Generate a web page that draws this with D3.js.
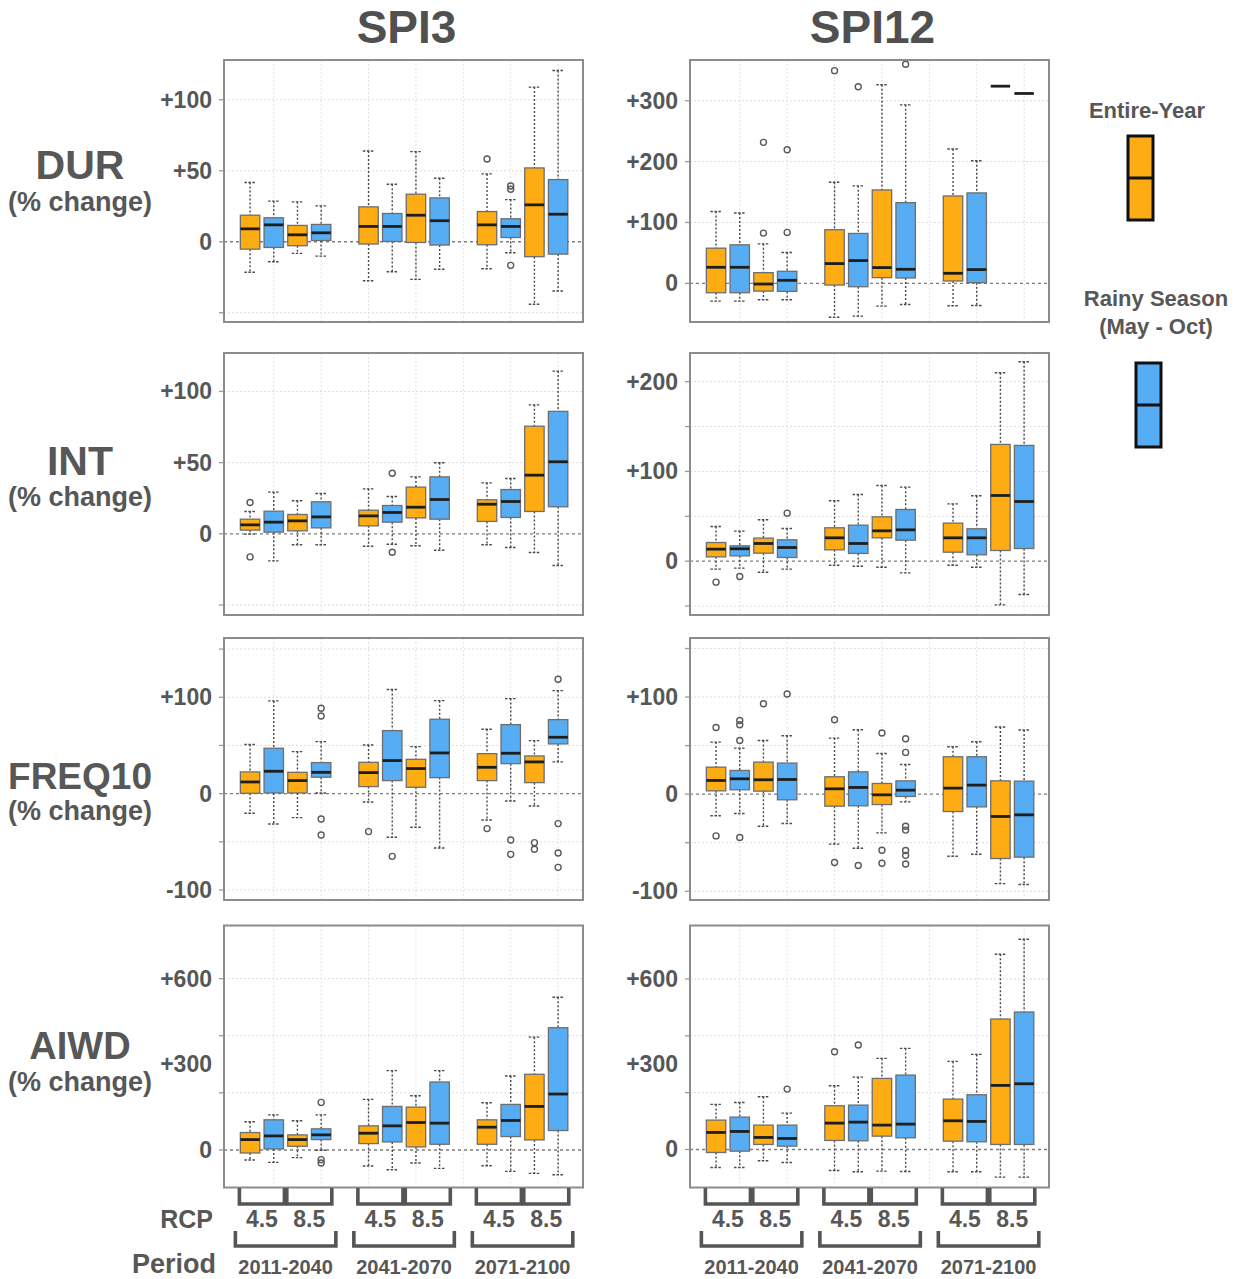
<!DOCTYPE html>
<html>
<head>
<meta charset="utf-8">
<script src="https://cdn.jsdelivr.net/npm/d3@7"></script>
<style>
  body { margin: 0; background: #fff; }
  svg text { font-family: "Liberation Sans", Arial, sans-serif; font-weight: bold; fill: #575757; }
</style>
</head>
<body>
<svg id="chart" width="1244" height="1279"></svg>
<script>
// ---- categories ----
const indices = ["SPI3", "SPI12"];
const metrics = ["DUR", "INT", "FREQ10", "AIWD"];
const periods = ["2011-2040", "2041-2070", "2071-2100"];
const rcps = ["4.5", "8.5"];
const seasons = ["Entire-Year", "Rainy Season|(May - Oct)"];

// ---- box statistics: [lower whisker, Q1, median, Q3, upper whisker]
// order: period -> RCP -> season (Entire-Year, Rainy Season)
const spi3Dur = [
  [-21.5, -5.2, 9.1, 18.7, 41.7], [-14.1, -4.0, 11.9, 16.9, 28.6],
  [-8.2, -2.8, 4.9, 11.5, 28.1], [-10.1, 0.9, 6.3, 12.2, 25.3],
  [-27.4, -1.6, 10.8, 24.6, 63.9], [-21.1, 0.2, 10.8, 19.9, 40.5],
  [-26.5, -0.5, 18.7, 33.5, 63.5], [-19.4, -2.3, 14.8, 30.9, 44.7],
  [-19.0, -2.1, 11.9, 21.3, 47.8], [-7.7, 3.0, 10.8, 16.2, 29.7],
  [-44.0, -10.5, 26.0, 52.0, 108.9], [-34.7, -8.7, 19.4, 43.8, 120.6]
];
const spi3DurOut = [[8, 58.3], [9, 39.3], [9, 37.0], [9, -16.6]];

const spi12Dur = [
  [-29.2, -15.4, 26.4, 57.8, 118], [-29.2, -15.4, 26.4, 63.3, 115.6],
  [-27.0, -12.7, -1.1, 17.6, 64.9], [-27.0, -13.2, 5.0, 19.8, 50.6],
  [-55.6, -2.8, 32.5, 88.1, 166.2], [-53.9, -5.5, 37.4, 82.0, 160.2],
  [-37.4, 9.4, 25.9, 153.5, 326.4], [-34.7, 8.8, 23.1, 132.6, 293.3],
  [-36.9, 3.9, 16.5, 143.6, 220.7], [-36.3, 1.1, 22.6, 148.6, 201.4],
  [324, 324, 324, 324, 324], [312, 312, 312, 312, 312]
];
const spi12DurOut = [[2, 82.6], [2, 231.7], [3, 83.7], [3, 219.6], [4, 349.5], [5, 323], [7, 360]];

const spi3Int = [
  [-0.2, 2.6, 6.3, 10.3, 15.7], [-19.0, 1.2, 8.2, 15.9, 29.3],
  [-7.7, 2.1, 9.1, 13.6, 23.2], [-7.7, 4.2, 11.9, 22.5, 28.3],
  [-8.7, 5.6, 12.6, 16.6, 31.6], [-7.3, 8.2, 15.0, 19.9, 26.2],
  [-8.4, 11.2, 18.7, 32.8, 40.0], [-11.5, 10.3, 24.1, 40.0, 49.9],
  [-7.7, 8.7, 20.8, 23.9, 35.8], [-9.6, 11.5, 22.7, 31.1, 38.9],
  [-13.1, 15.7, 41.2, 75.6, 90.6], [-22.2, 19.0, 50.6, 86.0, 114.3]
];
const spi3IntOut = [[0, 22], [0, -16.2], [5, 42.6], [5, -12.9]];

const spi12Int = [
  [-8.9, 4.8, 13.4, 20.8, 38.7], [-7.8, 5.9, 13.8, 17.1, 33.5],
  [-12.3, 8.9, 19.7, 25.7, 46.1], [-8.9, 4.1, 15.2, 23.8, 36.4],
  [-4.5, 12.6, 26.0, 37.2, 67.3], [-5.6, 8.6, 19.7, 40.1, 74.3],
  [-6.7, 26.0, 33.8, 49.4, 84.4], [-13.0, 23.4, 34.9, 57.6, 82.5],
  [-4.5, 10.0, 26.0, 42.4, 63.9], [-6.7, 7.1, 26.0, 36.1, 72.9],
  [-48.7, 11.9, 73.2, 130.1, 210], [-37.2, 14.1, 66.5, 129, 222.3]
];
const spi12IntOut = [[0, -23.4], [1, -17.1], [3, 53.5]];

const spi3Freq = [
  [-20.4, 0.3, 12.1, 22.5, 50.9], [-31.5, 0.7, 23.2, 47.1, 96.2],
  [-24.9, 0.7, 13.5, 22.1, 43.6], [0.7, 17.0, 22.1, 32.2, 54.0],
  [-8.7, 7.3, 21.8, 32.5, 50.5], [-45.3, 13.5, 34.3, 65.4, 108],
  [-34.9, 6.6, 26.0, 35.6, 48.8], [-56.4, 16.6, 42.2, 77.2, 96.5],
  [-27.3, 13.5, 27.3, 41.5, 66.8], [-7.6, 31.1, 41.9, 71.6, 98.6],
  [-12.8, 11.4, 32.9, 39.1, 55.0], [32.9, 51.6, 58.5, 76.8, 106.9]
];
const spi3FreqOut = [[3, 88.6], [3, 80.6], [3, -26.3], [3, -42.9], [4, -39.4], [5, -65.1],
  [8, -36.3], [9, -48.1], [9, -63], [10, -50.9], [10, -57.8],
  [11, 118.7], [11, -31.1], [11, -61.6], [11, -76.5]];

const spi12Freq = [
  [-22.3, 3.4, 14.1, 27.8, 53.6], [-19.9, 4.5, 15.8, 24.4, 47.4],
  [-33.0, 3.1, 14.8, 33.0, 55.3], [-30.2, -5.8, 15.1, 32.0, 60.1],
  [-51.5, -12.4, 5.5, 17.9, 57.7], [-55.7, -12.0, 6.9, 23.0, 66.3],
  [-39.9, -10.7, -0.7, 11.0, 41.9], [-8.0, -2.4, 4.1, 13.7, 30.6],
  [-63.9, -17.9, 6.2, 38.5, 48.8], [-61.9, -13.1, 9.3, 38.5, 54.0],
  [-92.1, -66.3, -23.0, 13.7, 69.1], [-93.1, -64.9, -21.3, 13.4, 66.0]
];
const spi12FreqOut = [[0, 68.7], [0, -43], [1, 75.9], [1, 71.5], [1, 55.3], [1, -44.7],
  [2, 93.1], [3, 103.1], [4, 76.6], [4, -70.4], [5, -73.5],
  [6, 62.9], [6, -57.7], [6, -71.1],
  [7, 57], [7, 43], [7, -33], [7, -37], [7, -58], [7, -63], [7, -72]];

const spi3Aiwd = [
  [-35.2, -10.6, 36.3, 61.0, 98.5], [-43.4, 3.5, 49.2, 105.5, 123],
  [-27.0, 12.9, 36.3, 52.8, 102], [-1.2, 36.3, 52.8, 73.9, 123],
  [-56.3, 22.3, 58.6, 84.4, 177], [-69.2, 28.1, 84.4, 152.4, 277.8],
  [-45.7, 10.6, 96.1, 150, 190], [-64.5, 19.9, 93.8, 238, 277.8],
  [-55.1, 19.9, 79.7, 105.5, 165.3], [-75.0, 46.9, 103.2, 159.4, 259],
  [-82.1, 35.2, 152.4, 265, 395], [-86.8, 68.0, 195.8, 428, 534.6]
];
const spi3AiwdOut = [[3, 166.5], [3, -34], [3, -45.7]];

const spi12Aiwd = [
  [-63.4, -10.6, 59.9, 103.3, 158.5], [-63.4, -5.9, 63.4, 113.8, 165.5],
  [-39.9, 17.6, 42.3, 85.7, 185.4], [-45.8, 11.7, 38.7, 85.7, 127.9],
  [-73.9, 31.7, 92.7, 153.8, 224.2], [-78.6, 30.5, 96.2, 156.1, 254.7],
  [-76.3, 46.9, 85.7, 250, 320.4], [-77.5, 41.1, 89.2, 261.7, 355.6],
  [-78.6, 29.3, 100.9, 177.2, 309.9], [-78.6, 27.0, 98.6, 192.5, 334.5],
  [-97.4, 17.6, 225.4, 458.9, 686.6], [-97.4, 17.6, 231.2, 483.6, 739.4]
];
const spi12AiwdOut = [[3, 212.4], [4, 343.9], [5, 367.4]];

// ---- axis ticks per metric row ----
const gridTicks = {
  DUR:    [[-50, 0, 50, 100], [0, 100, 200, 300]],
  INT:    [[-50, 0, 50, 100], [-50, 0, 50, 100, 150, 200]],
  FREQ10: [[-100, -50, 0, 50, 100, 150], [-100, -50, 0, 50, 100, 150]],
  AIWD:   [[0, 200, 400, 600], [0, 200, 400, 600]]
};
const labelTicks = {
  DUR:    [[0, 50, 100], [0, 100, 200, 300]],
  INT:    [[0, 50, 100], [0, 100, 200]],
  FREQ10: [[-100, 0, 100], [-100, 0, 100]],
  AIWD:   [[0, 300, 600], [0, 300, 600]]
};

// ---- layout ----
const colors = ["#FDAD13", "#56ADF4"];
const colX = [224, 690];
const rowY = [60, 353, 638, 925.5];
const panelW = 359, panelH = 262;
const yDomains = {
  DUR:    [[-56.5, 128], [-63.5, 367]],
  INT:    [[-57, 127], [-60, 232]],
  FREQ10: [[-110.4, 161.5], [-109, 160.8]],
  AIWD:   [[-131.5, 786], [-133.8, 788]]
};
const panelData = {
  DUR:    [[spi3Dur, spi3DurOut], [spi12Dur, spi12DurOut]],
  INT:    [[spi3Int, spi3IntOut], [spi12Int, spi12IntOut]],
  FREQ10: [[spi3Freq, spi3FreqOut], [spi12Freq, spi12FreqOut]],
  AIWD:   [[spi3Aiwd, spi3AiwdOut], [spi12Aiwd, spi12AiwdOut]]
};
const rowLabelBase = { DUR: [179, 211], INT: [475, 506], FREQ10: [789, 820], AIWD: [1059, 1091] };
const rowLabelSize = { DUR: 41, INT: 41, FREQ10: 37, AIWD: 38 };

// x position of a box: gaps between periods
const posOf = i => {
  const p = Math.floor(i / 4), r = Math.floor((i % 4) / 2), s = i % 2;
  return p * 5 + r * 2 + s + 1;
};
const fmt = v => v > 0 ? "+" + v : String(v);
const boxW = 0.82, capW = 0.48;

const svg = d3.select("#chart");

// column titles
indices.forEach((name, c) => {
  svg.append("text").attr("x", colX[c] + panelW / 2 + 3).attr("y", 43)
    .attr("text-anchor", "middle").attr("font-size", 46).style("fill", "#505050").text(name);
});

// row labels
metrics.forEach((m, r) => {
  svg.append("text").attr("x", 80).attr("y", rowLabelBase[m][0]).attr("text-anchor", "middle")
    .attr("font-size", rowLabelSize[m]).text(m);
  svg.append("text").attr("x", 80).attr("y", rowLabelBase[m][1]).attr("text-anchor", "middle")
    .attr("font-size", 27).text("(% change)");
});

metrics.forEach((m, r) => {
  indices.forEach((idx, c) => {
    const [stats, outs] = panelData[m][c];
    const x0 = colX[c], y0 = rowY[r];
    const x = d3.scaleLinear().domain([-0.1, 15.05]).range([x0, x0 + panelW]);
    const y = d3.scaleLinear().domain(yDomains[m][c]).range([y0 + panelH, y0]);
    const g = svg.append("g");

    g.append("rect").attr("x", x0).attr("y", y0).attr("width", panelW).attr("height", panelH)
      .attr("fill", "#fff");

    // horizontal grid
    g.selectAll(".hg").data(gridTicks[m][c].filter(v => v !== 0)).join("line")
      .attr("x1", x0).attr("x2", x0 + panelW).attr("y1", d => y(d)).attr("y2", d => y(d))
      .attr("stroke", "#dcdcdc").attr("stroke-width", 1).attr("stroke-dasharray", "2,2");
    // vertical grid at even positions
    g.selectAll(".vg").data(d3.range(2, 15, 2)).join("line")
      .attr("x1", d => x(d)).attr("x2", d => x(d)).attr("y1", y0).attr("y2", y0 + panelH)
      .attr("stroke", "#e2e2e2").attr("stroke-width", 1).attr("stroke-dasharray", "2,2");
    // zero reference line
    g.append("line").attr("x1", x0).attr("x2", x0 + panelW).attr("y1", y(0)).attr("y2", y(0))
      .attr("stroke", "#7e7e7e").attr("stroke-width", 1.4).attr("stroke-dasharray", "3,3");

    // left tick marks and labels
    g.selectAll(".tk").data(gridTicks[m][c]).join("line")
      .attr("x1", x0 - 5).attr("x2", x0).attr("y1", d => y(d)).attr("y2", d => y(d))
      .attr("stroke", "#9a9a9a").attr("stroke-width", 1.3);
    g.selectAll(".tl").data(labelTicks[m][c]).join("text")
      .attr("x", x0 - 12).attr("y", d => y(d) + 8).attr("text-anchor", "end")
      .attr("font-size", 23).text(fmt);

    // boxes
    stats.forEach((s, i) => {
      const cx = x(posOf(i));
      const hw = (x(boxW) - x(0)) / 2, cw = (x(capW) - x(0)) / 2;
      const [lo, q1, med, q3, hi] = s;
      const bg = g.append("g");
      if (hi > q3) {
        bg.append("line").attr("x1", cx).attr("x2", cx).attr("y1", y(hi)).attr("y2", y(q3))
          .attr("stroke", "#4a4a4a").attr("stroke-width", 1.4).attr("stroke-dasharray", "2,2");
        bg.append("line").attr("x1", cx - cw).attr("x2", cx + cw).attr("y1", y(hi)).attr("y2", y(hi))
          .attr("stroke", "#4a4a4a").attr("stroke-width", 1.4).attr("stroke-dasharray", "2.5,1.5");
      }
      if (lo < q1) {
        bg.append("line").attr("x1", cx).attr("x2", cx).attr("y1", y(q1)).attr("y2", y(lo))
          .attr("stroke", "#4a4a4a").attr("stroke-width", 1.4).attr("stroke-dasharray", "2,2");
        bg.append("line").attr("x1", cx - cw).attr("x2", cx + cw).attr("y1", y(lo)).attr("y2", y(lo))
          .attr("stroke", "#4a4a4a").attr("stroke-width", 1.4).attr("stroke-dasharray", "2.5,1.5");
      }
      if (q3 > q1) {
        bg.append("rect").attr("x", cx - hw).attr("y", y(q3)).attr("width", hw * 2)
          .attr("height", y(q1) - y(q3)).attr("fill", colors[i % 2])
          .attr("stroke", "#6e6e6e").attr("stroke-width", 1.3);
      }
      bg.append("line").attr("x1", cx - hw).attr("x2", cx + hw).attr("y1", y(med)).attr("y2", y(med))
        .attr("stroke", "#1e1e1e").attr("stroke-width", 2.8);
    });

    // outliers
    g.selectAll(".out").data(outs).join("circle")
      .attr("cx", d => x(posOf(d[0]))).attr("cy", d => y(d[1])).attr("r", 3)
      .attr("fill", "none").attr("stroke", "#5a5a5a").attr("stroke-width", 1.4);

    // panel frame
    g.append("rect").attr("x", x0).attr("y", y0).attr("width", panelW).attr("height", panelH)
      .attr("fill", "none").attr("stroke", "#8c8c8c").attr("stroke-width", 2);
  });
});

// bottom brackets: RCP pairs and periods
indices.forEach((idx, c) => {
  const x0 = colX[c];
  const x = d3.scaleLinear().domain([-0.1, 15.05]).range([x0, x0 + panelW]);
  const g = svg.append("g").attr("fill", "none").attr("stroke", "#555").attr("stroke-width", 3.6);
  periods.forEach((per, p) => {
    rcps.forEach((rc, k) => {
      const c0 = p * 5 + k * 2 + 1.5;
      const a = x(c0 - 0.95), b = x(c0 + 0.95);
      g.append("path").attr("d", `M${a},1188 V1204 H${b} V1188`);
      svg.append("text").attr("x", x(c0)).attr("y", 1227).attr("text-anchor", "middle")
        .attr("font-size", 23).text(rc);
    });
    const pc = p * 5 + 2.5;
    const a = x(pc - 2.12), b = x(pc + 2.12);
    g.append("path").attr("d", `M${a},1231 V1246 H${b} V1231`);
    svg.append("text").attr("x", x(pc)).attr("y", 1274).attr("text-anchor", "middle")
      .attr("font-size", 20).text(per);
  });
});
svg.append("text").attr("x", 213).attr("y", 1228).attr("text-anchor", "end")
  .attr("font-size", 25).text("RCP");
svg.append("text").attr("x", 216).attr("y", 1273).attr("text-anchor", "end")
  .attr("font-size", 27).text("Period");

// legend
const legend = [
  { lines: seasons[0].split("|"), ty: [118], box: [1128, 136] },
  { lines: seasons[1].split("|"), ty: [306, 334], box: [1136, 363] }
];
legend.forEach((L, i) => {
  L.lines.forEach((t, j) => {
    svg.append("text").attr("x", i === 0 ? 1147 : 1156).attr("y", L.ty[j])
      .attr("text-anchor", "middle").attr("font-size", 22).text(t);
  });
  svg.append("rect").attr("x", L.box[0]).attr("y", L.box[1]).attr("width", 25).attr("height", 84)
    .attr("fill", colors[i]).attr("stroke", "#111").attr("stroke-width", 3);
  svg.append("line").attr("x1", L.box[0]).attr("x2", L.box[0] + 25)
    .attr("y1", L.box[1] + 42).attr("y2", L.box[1] + 42).attr("stroke", "#111").attr("stroke-width", 3);
});
</script>
</body>
</html>
